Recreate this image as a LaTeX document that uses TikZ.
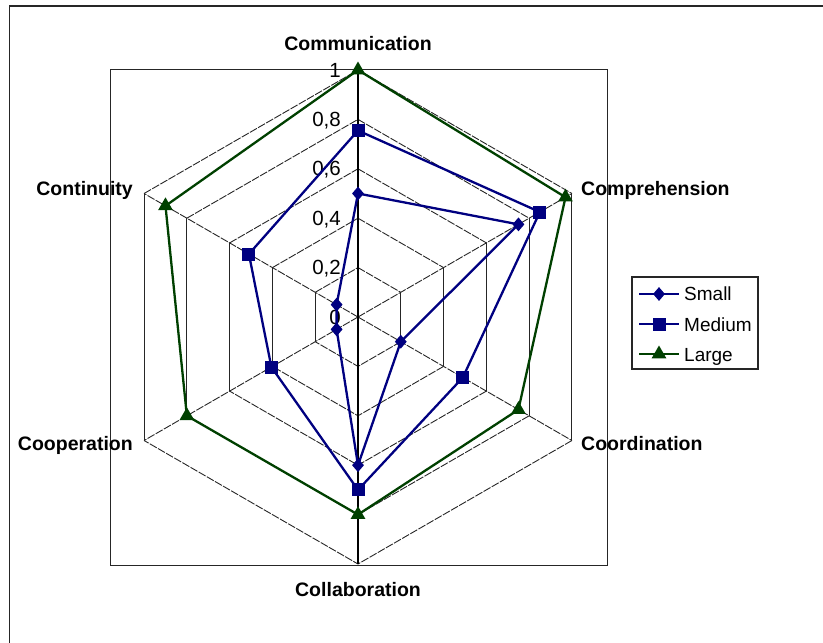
\documentclass[tikz,border=0pt]{standalone}
\usepackage{fontspec}
\setmainfont{Liberation Sans}
\usetikzlibrary{shapes.geometric}
\definecolor{seriesblue}{RGB}{0,0,128}
\definecolor{seriesgreen}{RGB}{0,64,0}
\begin{document}
\begin{tikzpicture}[x=1pt,y=-1pt,
  gridline/.style={black!85, line width=0.9pt},
  slant/.style={gridline, dash pattern=on 8pt off 1.4pt},
  axisline/.style={black, line width=1.1pt},
  axislabel/.style={font=\fontsize{19.5}{20}\selectfont\bfseries, inner sep=0pt},
  ticklabel/.style={font=\fontsize{20.5}{20}\selectfont, inner sep=0pt, anchor=base east},
  series/.style={line width=2.3pt, line join=round},
  dmark/.style={diamond, fill=seriesblue, inner sep=0pt, minimum width=12pt, minimum height=14pt},
  smark/.style={rectangle, fill=seriesblue, inner sep=0pt, minimum size=13pt},
  tmark/.style={regular polygon, regular polygon sides=3, fill=seriesgreen, inner sep=0pt, minimum size=17pt},
  legendtext/.style={font=\fontsize{19}{20}\selectfont, inner sep=0pt, anchor=base west},
]
\clip (0,0) rectangle (823,643);

% chart frame and plot area
\draw[line width=1.8pt, black!85] (9.5,5.7) rectangle (840,660);
\draw[line width=1pt, black!85] (110,69) rectangle (607,565);

\def\R{247}
\begin{scope}[shift={(358,317)}]
  % hexagonal grid rings
  \foreach \k in {0.2,0.4,0.6,0.8,1} {
    \draw[slant] (-90:{\k*\R}) -- (-30:{\k*\R});
    \draw[gridline] (-30:{\k*\R}) -- (30:{\k*\R});
    \draw[slant] (30:{\k*\R}) -- (90:{\k*\R}) -- (150:{\k*\R});
    \draw[gridline] (150:{\k*\R}) -- (210:{\k*\R});
    \draw[slant] (210:{\k*\R}) -- (270:{\k*\R});
  }
  % spokes
  \coordinate (O) at (0,0);
  \foreach \i in {1,...,6} \coordinate (V\i) at ({-150+60*\i}:\R);
  \foreach \i in {2,3,5,6} \draw[slant] (O) -- (V\i);
  \draw[axisline] (V1) -- (V4);

  % value labels on the vertical axis
  \foreach \k/\t in {0/0, 0.2/{0,2}, 0.4/{0,4}, 0.6/{0,6}, 0.8/{0,8}, 1/1}
    \node[ticklabel] at (-17,{-\k*\R+7}) {\t};

  % data points
  \foreach \v [count=\i] in {0.5,0.75,0.2,0.6,0.1,0.1}
    \coordinate (S\i) at ({-150+60*\i}:{\v*\R});
  \foreach \v [count=\i] in {0.755,0.85,0.49,0.7,0.405,0.51}
    \coordinate (M\i) at ({-150+60*\i}:{\v*\R});
  \foreach \v [count=\i] in {1,0.97,0.75,0.8,0.8,0.9}
    \coordinate (L\i) at ({-150+60*\i}:{\v*\R});

  % series Small
  \draw[series, seriesblue] (S1) -- (S2) -- (S3) -- (S4) -- (S5) -- (S6) -- cycle;
  \foreach \i in {1,...,6} \node[dmark] (Sm\i) at (S\i) {};
  % series Medium
  \draw[series, seriesblue] (M1) -- (M2) -- (M3) -- (M4) -- (M5) -- (M6) -- cycle;
  \foreach \i in {1,...,6} \node[smark] (Mm\i) at (M\i) {};
  % series Large
  \draw[series, seriesgreen] (L1) -- (L2) -- (L3) -- (L4) -- (L5) -- (L6) -- cycle;
  \foreach \i in {1,...,6} \node[tmark] (Lm\i) at (L\i) {};
\end{scope}

% category labels
\node[axislabel, anchor=base] (lComm) at (358,50) {Communication};
\node[axislabel, anchor=base west] (lCompr) at (581,195) {Comprehension};
\node[axislabel, anchor=base west] (lCoord) at (581,450) {Coordination};
\node[axislabel, anchor=base] (lCollab) at (358,596) {Collaboration};
\node[axislabel, anchor=base east] (lCoop) at (133,450) {Cooperation};
\node[axislabel, anchor=base east] (lCont) at (133,195) {Continuity};

% legend
\draw[line width=1.2pt, black!85] (632,277) rectangle (758,369);
\coordinate (a1) at (639,294); \coordinate (b1) at (679,294);
\coordinate (a2) at (639,324); \coordinate (b2) at (679,324);
\coordinate (a3) at (639,354); \coordinate (b3) at (679,354);
\draw[series, seriesblue] (a1) -- (b1);
\node[dmark] (k1) at (659,294) {};
\draw[series, seriesblue] (a2) -- (b2);
\node[smark] (k2) at (659,324) {};
\draw[series, seriesgreen] (a3) -- (b3);
\node[tmark] (k3) at (659,354) {};
\node[legendtext] (t1) at (684,300) {Small};
\node[legendtext] (t2) at (684,331) {Medium};
\node[legendtext] (t3) at (684,361) {Large};
\end{tikzpicture}
\end{document}
